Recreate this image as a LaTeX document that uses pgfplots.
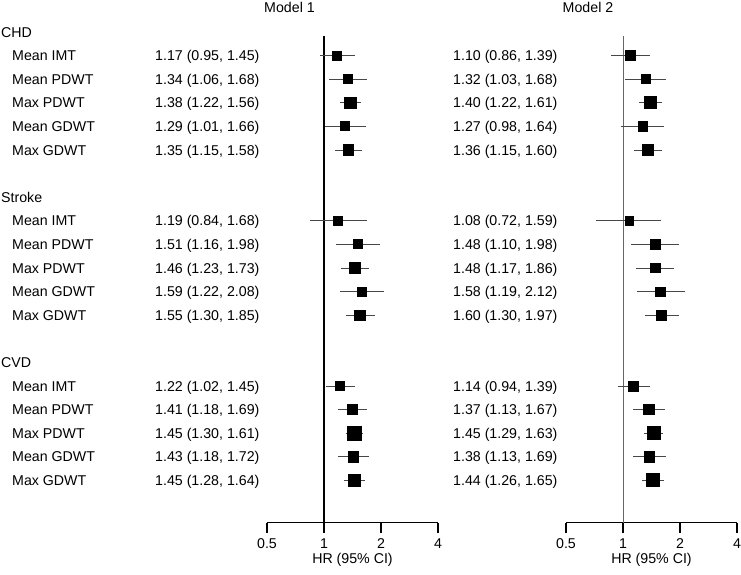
\documentclass[border=0pt]{standalone}
\usepackage{pgfplots}
\pgfplotsset{compat=1.18}
\usepackage{pgfplotstable}
\usepackage{fontspec}
\setmainfont{Liberation Sans}

% y = -row index, hr, lower, upper, marker half-size (pt)
\pgfplotstableread{
y hr lo hi s
-1 1.17 0.95 1.45 4.65
-2 1.34 1.06 1.68 4.5
-3 1.38 1.22 1.56 5.85
-4 1.29 1.01 1.66 4.5
-5 1.35 1.15 1.58 5.15
-8 1.19 0.84 1.68 4.5
-9 1.51 1.16 1.98 4.5
-10 1.46 1.23 1.73 5.15
-11 1.59 1.22 2.08 4.35
-12 1.55 1.30 1.85 5.15
-15 1.22 1.02 1.45 4.65
-16 1.41 1.18 1.69 5.15
-17 1.45 1.30 1.61 7.0
-18 1.43 1.18 1.72 5.15
-19 1.45 1.28 1.64 6.35
}\modelA

\pgfplotstableread{
y hr lo hi s
-1 1.10 0.86 1.39 4.85
-2 1.32 1.03 1.68 4.65
-3 1.40 1.22 1.61 6.0
-4 1.27 0.98 1.64 4.65
-5 1.36 1.15 1.60 5.5
-8 1.08 0.72 1.59 4.15
-9 1.48 1.10 1.98 4.85
-10 1.48 1.17 1.86 4.85
-11 1.58 1.19 2.12 4.65
-12 1.60 1.30 1.97 5.0
-15 1.14 0.94 1.39 5.0
-16 1.37 1.13 1.67 5.15
-17 1.45 1.29 1.63 6.5
-18 1.38 1.13 1.69 5.15
-19 1.44 1.26 1.65 6.5
}\modelB

\newcommand{\lab}[3]{\node[inner sep=0pt, anchor=base west, xshift=#1, yshift=-5.05pt] at (axis cs:0.5,#2) {#3};}

\newcommand{\drawdata}[1]{%
  \addplot[forget plot, only marks, mark=none,
    error bars/.cd, x dir=both, x explicit, error mark=none,
    error bar style={draw=black!72, line width=1pt}]
    table[x=hr, y=y, x error plus expr=\thisrow{hi}-\thisrow{hr},
          x error minus expr=\thisrow{hr}-\thisrow{lo}] {#1};
  \addplot[forget plot, scatter, only marks, mark=square*,
    scatter/use mapped color={draw=black, fill=black},
    mark options={line width=0pt},
    visualization depends on={\thisrow{s} \as \msize},
    scatter/@pre marker code/.append style={/tikz/mark size=\msize}]
    table[x=hr, y=y] {#1};
}

\begin{document}
\fontsize{14.2}{16}\selectfont
\begin{tikzpicture}
\begin{axis}[
    name=ax1,
    scale only axis, width=171pt, height=522.7pt,
    xmode=log, log basis x=2, xmin=0.5, xmax=4, ymin=-20.79, ymax=1.36,
    axis x line=bottom, axis y line=none,
    x axis line style={-, line width=1.5pt, black},
    xtick={0.5,1,2,4}, xticklabels={0.5,1,2,4},
    xtick align=outside, major tick length=10pt,
    tick style={line width=1.5pt, black},
    xticklabel style={inner sep=0pt, yshift=-6pt},
    clip=false]
  \addplot[forget plot, black, line width=1.2pt] coordinates {(1,-0.17) (1,-20.79)};
  \drawdata{\modelA}
  \node[inner sep=0pt, anchor=base, xshift=22.5pt] at (axis cs:0.5,0.85) {Model 1};
  \node[inner sep=0pt, anchor=base, yshift=-41pt] at (axis cs:1.4142,-20.79) {HR (95\% CI)};
  \lab{-266pt}{0}{CHD}
  \lab{-255pt}{-1}{Mean IMT}
  \lab{-255pt}{-2}{Mean PDWT}
  \lab{-255pt}{-3}{Max PDWT}
  \lab{-255pt}{-4}{Mean GDWT}
  \lab{-255pt}{-5}{Max GDWT}
  \lab{-266pt}{-7}{Stroke}
  \lab{-255pt}{-8}{Mean IMT}
  \lab{-255pt}{-9}{Mean PDWT}
  \lab{-255pt}{-10}{Max PDWT}
  \lab{-255pt}{-11}{Mean GDWT}
  \lab{-255pt}{-12}{Max GDWT}
  \lab{-266pt}{-14}{CVD}
  \lab{-255pt}{-15}{Mean IMT}
  \lab{-255pt}{-16}{Mean PDWT}
  \lab{-255pt}{-17}{Max PDWT}
  \lab{-255pt}{-18}{Mean GDWT}
  \lab{-255pt}{-19}{Max GDWT}
  \lab{-112pt}{-1}{1.17 (0.95, 1.45)}
  \lab{-112pt}{-2}{1.34 (1.06, 1.68)}
  \lab{-112pt}{-3}{1.38 (1.22, 1.56)}
  \lab{-112pt}{-4}{1.29 (1.01, 1.66)}
  \lab{-112pt}{-5}{1.35 (1.15, 1.58)}
  \lab{-112pt}{-8}{1.19 (0.84, 1.68)}
  \lab{-112pt}{-9}{1.51 (1.16, 1.98)}
  \lab{-112pt}{-10}{1.46 (1.23, 1.73)}
  \lab{-112pt}{-11}{1.59 (1.22, 2.08)}
  \lab{-112pt}{-12}{1.55 (1.30, 1.85)}
  \lab{-112pt}{-15}{1.22 (1.02, 1.45)}
  \lab{-112pt}{-16}{1.41 (1.18, 1.69)}
  \lab{-112pt}{-17}{1.45 (1.30, 1.61)}
  \lab{-112pt}{-18}{1.43 (1.18, 1.72)}
  \lab{-112pt}{-19}{1.45 (1.28, 1.64)}
\end{axis}
\begin{axis}[
    name=ax2, at={(299pt,0pt)},
    scale only axis, width=171pt, height=522.7pt,
    xmode=log, log basis x=2, xmin=0.5, xmax=4, ymin=-20.79, ymax=1.36,
    axis x line=bottom, axis y line=none,
    x axis line style={-, line width=1.5pt, black},
    xtick={0.5,1,2,4}, xticklabels={0.5,1,2,4},
    xtick align=outside, major tick length=10pt,
    tick style={line width=1.5pt, black},
    xticklabel style={inner sep=0pt, yshift=-6pt},
    clip=false]
  \addplot[forget plot, black!60, line width=1pt] coordinates {(1,-0.17) (1,-20.79)};
  \drawdata{\modelB}
  \node[inner sep=0pt, anchor=base, xshift=22pt] at (axis cs:0.5,0.85) {Model 2};
  \node[inner sep=0pt, anchor=base, yshift=-41pt] at (axis cs:1.4142,-20.79) {HR (95\% CI)};
  \lab{-113pt}{-1}{1.10 (0.86, 1.39)}
  \lab{-113pt}{-2}{1.32 (1.03, 1.68)}
  \lab{-113pt}{-3}{1.40 (1.22, 1.61)}
  \lab{-113pt}{-4}{1.27 (0.98, 1.64)}
  \lab{-113pt}{-5}{1.36 (1.15, 1.60)}
  \lab{-113pt}{-8}{1.08 (0.72, 1.59)}
  \lab{-113pt}{-9}{1.48 (1.10, 1.98)}
  \lab{-113pt}{-10}{1.48 (1.17, 1.86)}
  \lab{-113pt}{-11}{1.58 (1.19, 2.12)}
  \lab{-113pt}{-12}{1.60 (1.30, 1.97)}
  \lab{-113pt}{-15}{1.14 (0.94, 1.39)}
  \lab{-113pt}{-16}{1.37 (1.13, 1.67)}
  \lab{-113pt}{-17}{1.45 (1.29, 1.63)}
  \lab{-113pt}{-18}{1.38 (1.13, 1.69)}
  \lab{-113pt}{-19}{1.44 (1.26, 1.65)}
\end{axis}
\path (ax1.south west) ++(-267pt,-52.3pt) rectangle ++(741pt,575pt);
\end{tikzpicture}
\end{document}
